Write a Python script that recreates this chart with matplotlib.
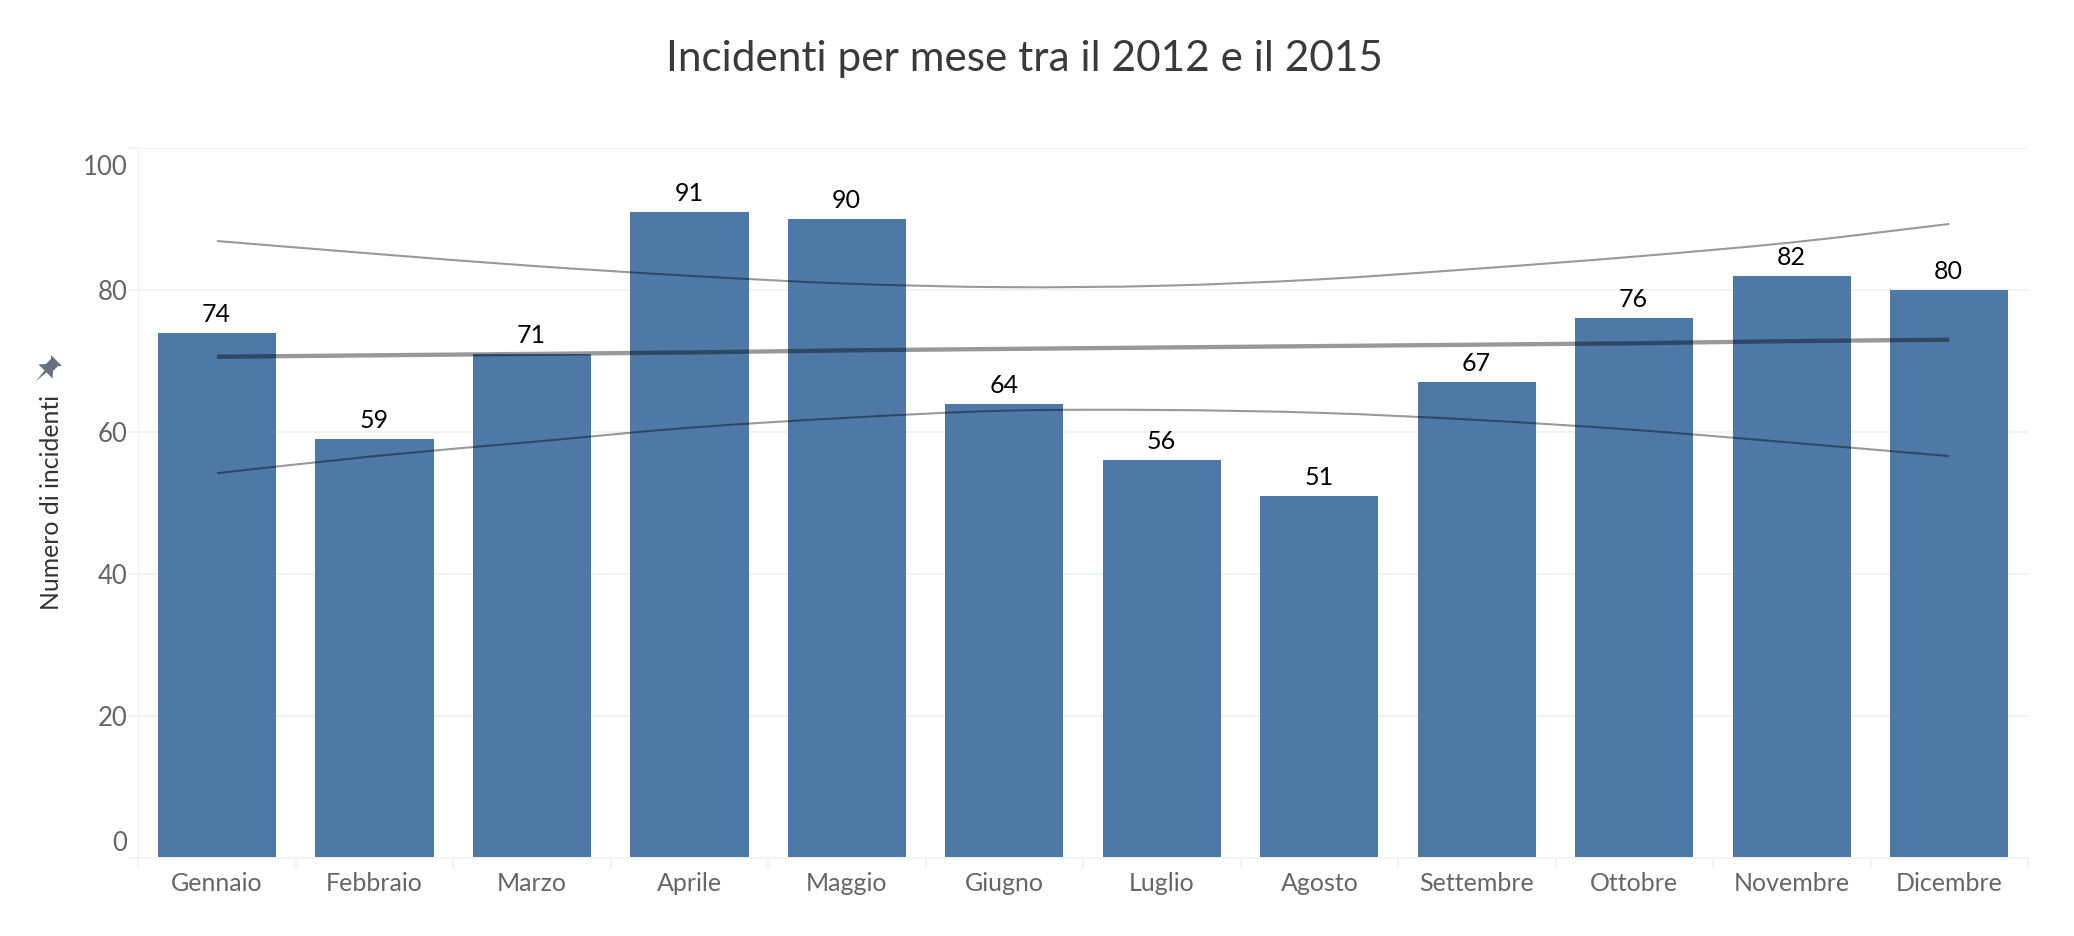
import matplotlib
matplotlib.use("Agg")
import matplotlib.pyplot as plt
import numpy as np
from matplotlib.patches import PathPatch, Polygon
from matplotlib.path import Path
from matplotlib.transforms import Affine2D, ScaledTranslation

plt.rcParams['font.family'] = ['Lato', 'DejaVu Sans']

mesi = ['Gennaio', 'Febbraio', 'Marzo', 'Aprile', 'Maggio', 'Giugno', 'Luglio',
        'Agosto', 'Settembre', 'Ottobre', 'Novembre', 'Dicembre']
incidenti = [74, 59, 71, 91, 90, 64, 56, 51, 67, 76, 82, 80]

# linea di tendenza e banda di confidenza
tendenza = [70.6, 70.8, 71.0, 71.2, 71.5, 71.7, 71.9, 72.1, 72.3, 72.5, 72.8, 73.0]
banda_sup = [86.9, 85.1, 83.4, 82.0, 80.9, 80.4, 80.6, 81.5, 83.0, 84.7, 86.7, 89.3]
banda_inf = [54.2, 56.6, 58.6, 60.6, 62.0, 63.0, 63.1, 62.7, 61.7, 60.3, 58.5, 56.6]
tacche_y = [0, 20, 40, 60, 80, 100]

W, H = 2074, 936
BLU = '#4e78a6'
GRIGLIA = '#f2f2f2'


def curva(ax, x, y, lw):
    # curva morbida (Catmull-Rom) che passa per i valori mensili
    p = np.column_stack([x, y])
    prec = np.vstack([p[0], p[:-1]])
    succ = np.vstack([p[1:], p[-1]])
    vertici = [p[0]]
    codici = [Path.MOVETO]
    for i in range(len(p) - 1):
        vertici += [p[i] + (succ[i] - prec[i])/6, p[i+1] - (succ[i+1] - prec[i+1])/6, p[i+1]]
        codici += [Path.CURVE4]*3
    ax.add_patch(PathPatch(Path(vertici, codici), facecolor='none', edgecolor='black',
                           alpha=0.4, lw=lw, capstyle='butt', zorder=3))


fig = plt.figure(figsize=(W/100, H/100), dpi=100, facecolor='white')
ax = fig.add_axes([138.3/W, 1 - 858/H, (2028 - 138.3)/W, (858 - 148)/H])

x = np.arange(len(mesi))
ax.bar(x, incidenti, width=0.75, color=BLU, zorder=2)
for xi, v in zip(x, incidenti):
    ax.annotate(str(v), (xi, v), xytext=(-0.5, 5), textcoords='offset points',
                ha='center', va='bottom', fontsize=18, color='black', zorder=5)

ax.plot(x, tendenza, color='black', alpha=0.4, lw=3.1, solid_capstyle='butt', zorder=3)
curva(ax, x, banda_sup, 1.5)
curva(ax, x, banda_inf, 1.5)

ax.set_xlim(-0.5, 11.5)
ax.set_ylim(0, 100)
ax.set_yticks(tacche_y)
ax.set_xticks(x)
ax.set_xticklabels(mesi)
ax.set_xticks(np.arange(-0.5, 12, 1), minor=True)
ax.grid(axis='y', color=GRIGLIA, lw=1.4, zorder=0)
ax.set_axisbelow(True)

for nome in ['top', 'right']:
    ax.spines[nome].set_visible(False)
ax.spines['left'].set_color(GRIGLIA)
ax.spines['left'].set_linewidth(1.0)
ax.spines['bottom'].set_color(GRIGLIA)
ax.spines['bottom'].set_linewidth(1.4)

ax.tick_params(axis='x', which='major', length=0, pad=10, labelsize=18, labelcolor='#666666')
ax.tick_params(axis='x', which='minor', length=7, width=1.4, color=GRIGLIA)
ax.tick_params(axis='y', length=7, width=1.4, color=GRIGLIA, pad=1, labelsize=18.5, labelcolor='#666666')

# Tableau sposta verso l'interno le etichette estreme dell'asse
etichette = ax.get_yticklabels()
etichette[0].set_transform(etichette[0].get_transform()
                           + ScaledTranslation(0, 17/100, fig.dpi_scale_trans))
etichette[-1].set_transform(etichette[-1].get_transform()
                            + ScaledTranslation(0, -17/100, fig.dpi_scale_trans))

fig.text(1024/W, 1 - 59/H, 'Incidenti per mese tra il 2012 e il 2015', ha='center', va='center',
         fontsize=30.4, color='#3a3a3a')
fig.text(52/W, 1 - 502/H, 'Numero di incidenti', rotation=90, ha='center', va='center',
         fontsize=17.8, color='#333333')

# puntina accanto al titolo dell'asse
testa = np.array([[-7.5, -12], [7.5, -12], [5, -9], [5, -2], [10, 3.5], [1.4, 3.5], [0, 17],
                  [-1.4, 3.5], [-10, 3.5], [-5, -2], [-5, -9]], dtype=float)
pin = Affine2D().rotate_deg(135).translate(48, H - 369).transform(testa)
fig.add_artist(Polygon(pin, closed=True, transform=None, facecolor='#66727f', edgecolor='none'))

fig.savefig('out.png', dpi=100)
